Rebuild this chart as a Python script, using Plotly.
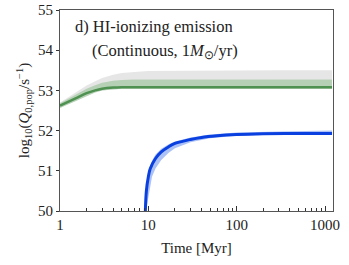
import numpy as np
import plotly.graph_objects as go

# Green (main) population
t_g = [1, 1.5, 2, 2.5, 3, 4, 5, 7, 10, 30, 100, 300, 1200]
g_line = [52.62, 52.80, 52.93, 53.00, 53.04, 53.07, 53.08, 53.08, 53.08, 53.08, 53.08, 53.08, 53.08]
g_up = [52.68, 52.90, 53.04, 53.13, 53.19, 53.24, 53.26, 53.27, 53.27, 53.27, 53.27, 53.27, 53.27]
g_lo = [52.56, 52.74, 52.87, 52.95, 53.00, 53.03, 53.04, 53.04, 53.04, 53.04, 53.04, 53.04, 53.04]
gr_up = [52.70, 52.95, 53.12, 53.23, 53.31, 53.39, 53.43, 53.46, 53.48, 53.49, 53.50, 53.50, 53.50]

# Blue population
t_b = [9.25, 9.5, 10, 10.5, 12, 14, 17, 20, 30, 40, 60, 100, 200, 500, 1200]
b_line = [50.0, 50.5, 50.85, 51.05, 51.30, 51.47, 51.60, 51.68, 51.78, 51.83, 51.87, 51.90, 51.92, 51.93, 51.93]
t_bb = [9.4, 10, 11, 12, 14, 17, 20, 30, 50, 100, 300, 1200]
b_up = [50.2, 51.0, 51.25, 51.40, 51.55, 51.66, 51.73, 51.83, 51.90, 51.95, 51.98, 52.00]
b_lo = [50.0, 50.3, 50.85, 51.05, 51.27, 51.45, 51.56, 51.71, 51.81, 51.87, 51.90, 51.91]

x_ticks = [1, 10, 100, 1000]
x_labels = ["1", "10", "100", "1000"]
x_minor = [2, 3, 4, 5, 6, 7, 8, 9, 20, 30, 40, 50, 60, 70, 80, 90, 200, 300, 400, 500, 600, 700, 800, 900]

fig = go.Figure()

def band(x, lo, up, color):
    fig.add_trace(go.Scatter(x=x, y=lo, mode="lines", line=dict(width=0), hoverinfo="skip", showlegend=False))
    fig.add_trace(go.Scatter(x=x, y=up, mode="lines", line=dict(width=0), fill="tonexty",
                             fillcolor=color, hoverinfo="skip", showlegend=False))

band(t_g, g_lo, gr_up, "rgba(200,200,200,0.45)")
band(t_g, g_lo, g_up, "rgba(110,175,110,0.40)")
fig.add_trace(go.Scatter(x=t_g, y=g_line, mode="lines", line=dict(color="#4e9150", width=2.5, shape="spline"), showlegend=False))

band(t_bb, b_lo, b_up, "rgba(70,120,235,0.45)")
fig.add_trace(go.Scatter(x=t_b, y=b_line, mode="lines", line=dict(color="#0a3fe0", width=3, shape="spline"), showlegend=False))

serif = "Liberation Serif"
font = dict(family=serif, size=15, color="#222")

fig.add_annotation(x=0.0476, y=0.861, xref="paper", yref="paper", xanchor="left", yanchor="bottom",
                   text="d) HI-ionizing emission", showarrow=False, font=dict(family=serif, size=16.5, color="#222"))
fig.add_annotation(x=0.11, y=0.856, xref="paper", yref="paper", xanchor="left", yanchor="top",
                   text="(Continuous, 1<i>M</i><sub>⊙</sub>/yr)", showarrow=False,
                   font=dict(family=serif, size=16.5, color="#222"))

fig.update_layout(
    width=349, height=265,
    margin=dict(l=60, r=16, t=10, b=54),
    paper_bgcolor="white", plot_bgcolor="white",
    font=font,
    xaxis=dict(type="log", range=[0, 3.09], tickvals=x_ticks, ticktext=x_labels,
               ticks="inside", ticklen=5, tickcolor="#333", automargin=False,
               minor=dict(tickvals=x_minor, ticks="inside", ticklen=3, tickcolor="#333", showgrid=False),
               showline=True, linecolor="#555", linewidth=1, mirror=True, showgrid=False, zeroline=False,
               title=dict(text="Time [Myr]", standoff=10, font=dict(family=serif, size=15))),
    yaxis=dict(range=[50, 55], dtick=1, ticks="outside", ticklen=3, tickcolor="#333", automargin=False,
               showline=True, linecolor="#555", linewidth=1, mirror=True, showgrid=False, zeroline=False,
               title=dict(text="log<sub>10</sub>(<i>Q</i><sub>0,pop</sub>/s<sup>−1</sup>)", standoff=4,
                          font=dict(family=serif, size=15))),
)

# Remove the default 8px body margin so the figure fills the window exactly.
fig.write_html("out.html", config={"displayModeBar": False},
               post_script="document.body.style.margin='0';")
